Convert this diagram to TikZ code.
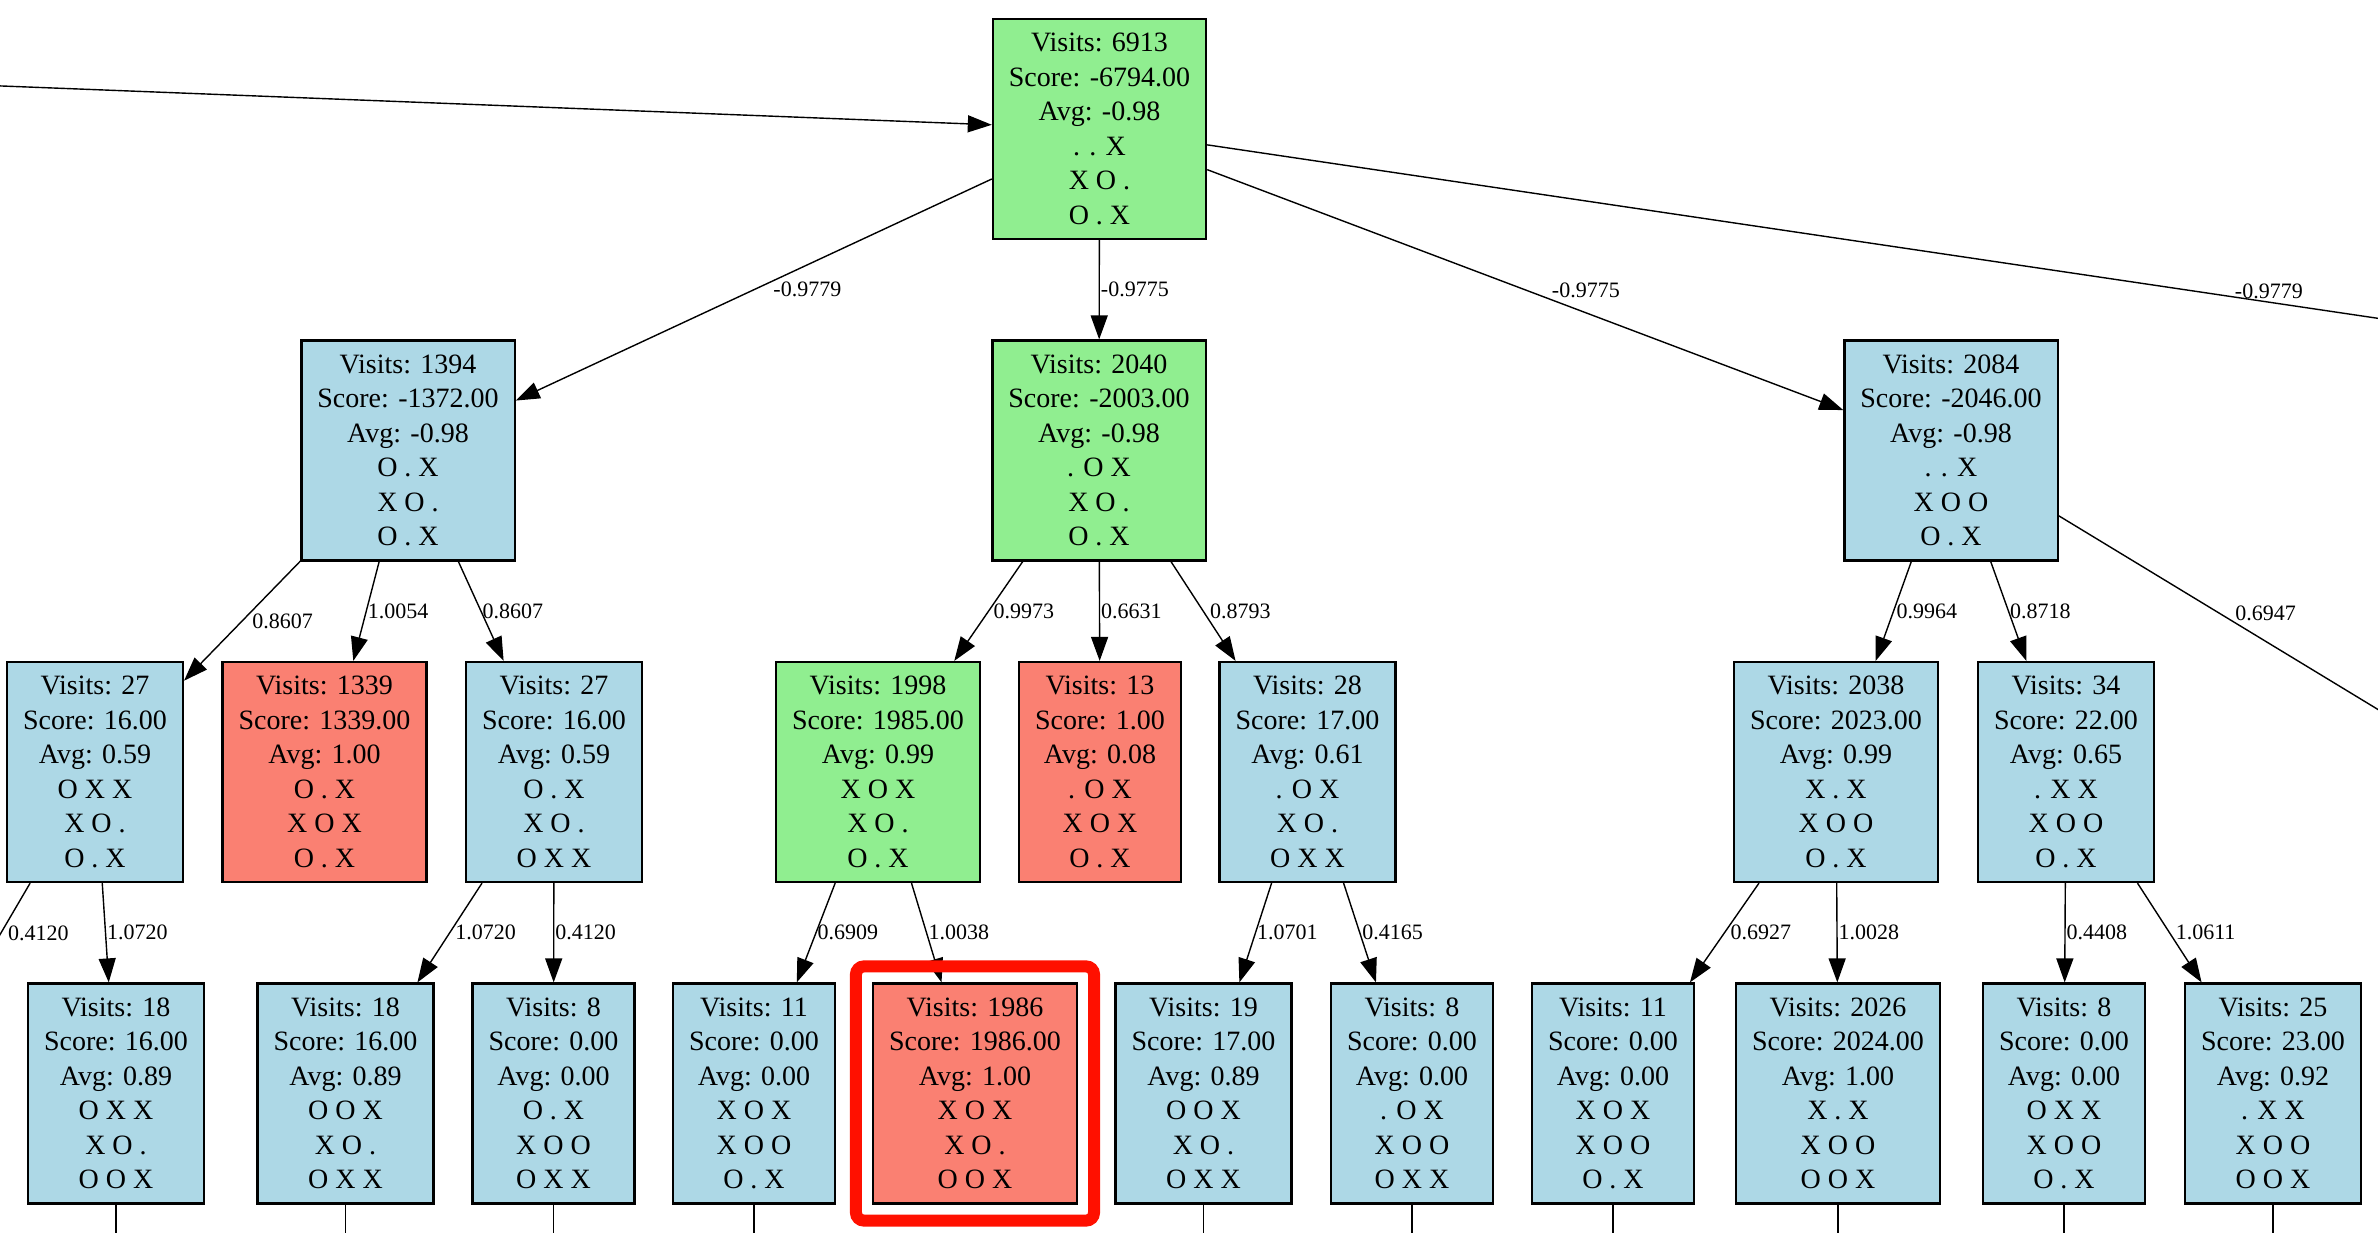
\documentclass[tikz,border=0pt]{standalone}
\usepackage{fontspec}
\setmainfont{Liberation Serif}
\usetikzlibrary{arrows.meta}
\definecolor{lightblue}{RGB}{173,216,230}
\definecolor{lightgreen}{RGB}{144,238,144}
\definecolor{salmon}{RGB}{250,128,114}
\definecolor{hlred}{RGB}{255,16,0}
\newcommand{\mcts}[6]{Visits: #1\\Score: #2\\Avg: #3\\#4\\#5\\#6}

\begin{document}
\begin{tikzpicture}[x=0.5pt,y=-0.5pt,
    box/.style={draw, line width=1.1pt, align=center, inner xsep=8pt, inner ysep=0pt,
      minimum height=110pt, font=\fontsize{14}{17.25}\selectfont},
    plain/.style={box, fill=lightblue},
    chosen/.style={box, fill=lightgreen},
    terminal/.style={box, fill=salmon},
    edge/.style={line width=0.7pt, -{Triangle[length=12pt,width=8.5pt]}},
    lbl/.style={font=\fontsize{11}{13}\selectfont, anchor=west, inner sep=0pt, pos=.5},
    hl/.style={draw=hlred, line width=6pt, rounded corners=4pt}]
  \useasboundingbox (0,0) rectangle (2378,1232);
  \clip (0,0) rectangle (2378,1232);
  % tree nodes, one row per depth
  \node[chosen] (root) at (1099.5,129) {\mcts{6913}{-6794.00}{-0.98}{. . X}{X O .}{O . X}};
  \node[plain] (A) at (408,450.5) {\mcts{1394}{-1372.00}{-0.98}{O . X}{X O .}{O . X}};
  \node[chosen] (B) at (1099,450.5) {\mcts{2040}{-2003.00}{-0.98}{. O X}{X O .}{O . X}};
  \node[plain] (C) at (1951,450.5) {\mcts{2084}{-2046.00}{-0.98}{. . X}{X O O}{O . X}};
  \node[plain] (A1) at (95,772) {\mcts{27}{16.00}{0.59}{O X X}{X O .}{O . X}};
  \node[terminal] (A2) at (324.5,772) {\mcts{1339}{1339.00}{1.00}{O . X}{X O X}{O . X}};
  \node[plain] (A3) at (554,772) {\mcts{27}{16.00}{0.59}{O . X}{X O .}{O X X}};
  \node[chosen] (B1) at (878,772) {\mcts{1998}{1985.00}{0.99}{X O X}{X O .}{O . X}};
  \node[terminal] (B2) at (1100,772) {\mcts{13}{1.00}{0.08}{. O X}{X O X}{O . X}};
  \node[plain] (B3) at (1307.5,772) {\mcts{28}{17.00}{0.61}{. O X}{X O .}{O X X}};
  \node[plain] (C1) at (1836,772) {\mcts{2038}{2023.00}{0.99}{X . X}{X O O}{O . X}};
  \node[plain] (C2) at (2066,772) {\mcts{34}{22.00}{0.65}{. X X}{X O O}{O . X}};
  \node[plain] (A1b) at (116,1093.5) {\mcts{18}{16.00}{0.89}{O X X}{X O .}{O O X}};
  \node[plain] (A3a) at (345.5,1093.5) {\mcts{18}{16.00}{0.89}{O O X}{X O .}{O X X}};
  \node[plain] (A3b) at (553.5,1093.5) {\mcts{8}{0.00}{0.00}{O . X}{X O O}{O X X}};
  \node[plain] (B1a) at (754,1093.5) {\mcts{11}{0.00}{0.00}{X O X}{X O O}{O . X}};
  \node[terminal] (B1b) at (975,1093.5) {\mcts{1986}{1986.00}{1.00}{X O X}{X O .}{O O X}};
  \node[plain] (B3a) at (1203.5,1093.5) {\mcts{19}{17.00}{0.89}{O O X}{X O .}{O X X}};
  \node[plain] (B3b) at (1412,1093.5) {\mcts{8}{0.00}{0.00}{. O X}{X O O}{O X X}};
  \node[plain] (C1a) at (1613,1093.5) {\mcts{11}{0.00}{0.00}{X O X}{X O O}{O . X}};
  \node[plain] (C1b) at (1838,1093.5) {\mcts{2026}{2024.00}{1.00}{X . X}{X O O}{O O X}};
  \node[plain] (C2a) at (2064,1093.5) {\mcts{8}{0.00}{0.00}{O X X}{X O O}{O . X}};
  \node[plain] (C2b) at (2273,1093.5) {\mcts{25}{23.00}{0.92}{. X X}{X O O}{O O X}};
  % ends of edges that leave the picture
  \coordinate (up) at (-100,82);
  \coordinate (D) at (3270,450.5);
  \coordinate (C3) at (2481,772);
  \coordinate (A1a) at (-93,1093.5);
  \coordinate (A1b1) at (116,1400);
  \coordinate (A3a1) at (345.5,1400);
  \coordinate (A3b1) at (553.5,1400);
  \coordinate (B1a1) at (754,1400);
  \coordinate (B3a1) at (1203.5,1400);
  \coordinate (B3b1) at (1412,1400);
  \coordinate (C1a1) at (1613,1400);
  \coordinate (C1b1) at (1838,1400);
  \coordinate (C2a1) at (2064,1400);
  \coordinate (C2b1) at (2273,1400);
  \begin{scope}
    \draw[edge] (up) -- (root);
    \draw[edge] (root) -- node[lbl, xshift=9.5pt] {-0.9779} (A);
    \draw[edge] (root) -- node[lbl, xshift=.5pt] {-0.9775} (B);
    \draw[edge] (root) -- node[lbl, xshift=13pt] {-0.9775} (C);
    \draw[edge] (root) -- node[lbl, pos=.4785, xshift=20pt] {-0.9779} (D);
    \draw[edge] (A) -- node[lbl, xshift=4.75pt] {0.8607} (A1);
    \draw[edge] (A) -- node[lbl, xshift=.5pt] {1.0054} (A2);
    \draw[edge] (A) -- node[lbl, xshift=.5pt] {0.8607} (A3);
    \draw[edge] (B) -- node[lbl, xshift=2.25pt] {0.9973} (B1);
    \draw[edge] (B) -- node[lbl, xshift=.5pt] {0.6631} (B2);
    \draw[edge] (B) -- node[lbl, xshift=3pt] {0.8793} (B3);
    \draw[edge] (C) -- node[lbl, xshift=1.25pt] {0.9964} (C1);
    \draw[edge] (C) -- node[lbl, xshift=.5pt] {0.8718} (C2);
    \draw[edge] (C) -- node[lbl, pos=.381, xshift=7.5pt] {0.6947} (C3);
    \draw[edge] (A1) -- node[lbl, pos=.238, xshift=3.3pt] {0.4120} (A1a);
    \draw[edge] (A1) -- node[lbl, xshift=.5pt] {1.0720} (A1b);
    \draw[edge] (A3) -- node[lbl, xshift=2.5pt] {1.0720} (A3a);
    \draw[edge] (A3) -- node[lbl, xshift=.5pt] {0.4120} (A3b);
    \draw[edge] (B1) -- node[lbl, xshift=.5pt] {0.6909} (B1a);
    \draw[edge] (B1) -- node[lbl, xshift=.75pt] {1.0038} (B1b);
    \draw[edge] (B3) -- node[lbl, xshift=.5pt] {1.0701} (B3a);
    \draw[edge] (B3) -- node[lbl, xshift=1pt] {0.4165} (B3b);
    \draw[edge] (C1) -- node[lbl, xshift=2.75pt] {0.6927} (C1a);
    \draw[edge] (C1) -- node[lbl, xshift=.5pt] {1.0028} (C1b);
    \draw[edge] (C2) -- node[lbl, xshift=.5pt] {0.4408} (C2a);
    \draw[edge] (C2) -- node[lbl, xshift=2.75pt] {1.0611} (C2b);
    \draw[edge] (A1b) -- (A1b1);
    \draw[edge] (A3a) -- (A3a1);
    \draw[edge] (A3b) -- (A3b1);
    \draw[edge] (B1a) -- (B1a1);
    \draw[edge] (B3a) -- (B3a1);
    \draw[edge] (B3b) -- (B3b1);
    \draw[edge] (C1a) -- (C1a1);
    \draw[edge] (C1b) -- (C1b1);
    \draw[edge] (C2a) -- (C2a1);
    \draw[edge] (C2b) -- (C2b1);
  \end{scope}
  % frame round the selected node
  \draw[hl] ([shift={(-16,-16)}]B1b.north west) rectangle ([shift={(16,16)}]B1b.south east);
\end{tikzpicture}
\end{document}
